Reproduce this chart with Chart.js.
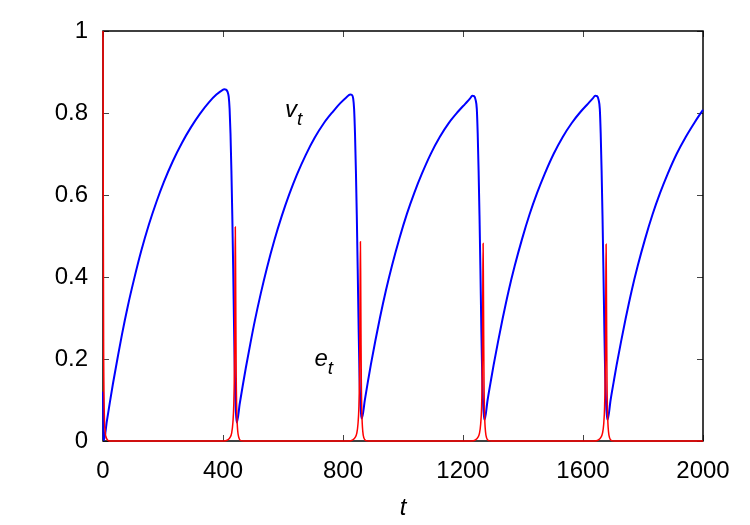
<!DOCTYPE html>
<html>
<head>
<meta charset="utf-8">
<script src="https://cdn.jsdelivr.net/npm/chart.js@4.4.0/dist/chart.umd.min.js"></script>
<style>
html, body { margin: 0; padding: 0; background: #fff; }
</style>
</head>
<body>
<canvas id="chart" width="750" height="525"></canvas>
<script>
// valeurs
var vT = [0, 2, 3, 13, 23, 33, 48, 63, 83, 103, 128, 153, 178, 203, 233, 263, 293, 323, 353, 378, 398, 404,
  410, 415, 419, 422, 425, 428, 431, 434, 437, 440, 443, 446,
  456, 466, 476, 491, 506, 526, 546, 571, 596, 621, 646, 676, 706, 736, 766, 791, 811, 824,
  830, 834, 837, 840, 843, 846, 849, 852, 855, 858, 861, 863,
  873, 883, 893, 908, 923, 943, 963, 988, 1013, 1038, 1063, 1093, 1123, 1153, 1183, 1208, 1223, 1231,
  1237, 1242, 1246, 1249, 1252, 1255, 1258, 1261, 1264, 1267, 1270, 1272,
  1282, 1292, 1302, 1317, 1332, 1352, 1372, 1397, 1422, 1447, 1472, 1502, 1532, 1562, 1592, 1617, 1632, 1641,
  1647, 1652, 1656, 1659, 1662, 1665, 1668, 1671, 1674, 1677, 1680, 1682,
  1692, 1702, 1712, 1727, 1742, 1762, 1782, 1807, 1832, 1857, 1882, 1912, 1942, 1972, 2000];
var vY = [0.12, 0.005, 0.002, 0.049, 0.095, 0.139, 0.2, 0.259, 0.33, 0.393, 0.465, 0.528, 0.583, 0.632, 0.683, 0.727, 0.765, 0.798, 0.826, 0.845, 0.856, 0.858,
  0.857, 0.852, 0.84, 0.81, 0.75, 0.66, 0.55, 0.42, 0.27, 0.14, 0.07, 0.045,
  0.092, 0.136, 0.178, 0.237, 0.293, 0.36, 0.421, 0.489, 0.549, 0.602, 0.649, 0.698, 0.74, 0.775, 0.803, 0.824, 0.838, 0.845,
  0.844, 0.835, 0.81, 0.75, 0.66, 0.55, 0.42, 0.28, 0.16, 0.09, 0.06, 0.055,
  0.101, 0.145, 0.187, 0.245, 0.3, 0.367, 0.427, 0.494, 0.554, 0.606, 0.652, 0.701, 0.742, 0.776, 0.803, 0.823, 0.835, 0.842,
  0.841, 0.832, 0.81, 0.75, 0.66, 0.55, 0.42, 0.28, 0.16, 0.09, 0.06, 0.052,
  0.1, 0.143, 0.185, 0.243, 0.298, 0.366, 0.426, 0.493, 0.553, 0.605, 0.651, 0.7, 0.741, 0.775, 0.803, 0.823, 0.835, 0.842,
  0.841, 0.832, 0.81, 0.75, 0.66, 0.55, 0.42, 0.28, 0.16, 0.09, 0.06, 0.052,
  0.1, 0.143, 0.185, 0.243, 0.298, 0.366, 0.426, 0.493, 0.553, 0.605, 0.651, 0.7, 0.741, 0.777, 0.808];

var eT = [0, 1, 2, 4, 7, 11, 16, 22,
  401, 416, 423, 429, 433, 436, 438, 439, 440, 441, 442, 443, 444, 446, 449, 453, 459, 470,
  818, 833, 840, 846, 850, 853, 855, 856, 857, 858, 859, 860, 861, 863, 866, 870, 876, 887,
  1227, 1242, 1249, 1255, 1259, 1262, 1264, 1265, 1266, 1267, 1268, 1269, 1270, 1272, 1275, 1279, 1285, 1296,
  1637, 1652, 1659, 1665, 1669, 1672, 1674, 1675, 1676, 1677, 1678, 1679, 1680, 1682, 1685, 1689, 1695, 1706,
  2000];
var eY = [1, 0.55, 0.25, 0.08, 0.025, 0.008, 0.002, 0,
  0, 0.003, 0.008, 0.02, 0.045, 0.09, 0.17, 0.26, 0.4, 0.522, 0.42, 0.28, 0.16, 0.07, 0.025, 0.008, 0.001, 0,
  0, 0.003, 0.008, 0.019, 0.042, 0.084, 0.158, 0.242, 0.372, 0.486, 0.39, 0.26, 0.149, 0.065, 0.023, 0.007, 0.001, 0,
  0, 0.003, 0.008, 0.019, 0.042, 0.083, 0.157, 0.24, 0.369, 0.482, 0.387, 0.258, 0.148, 0.064, 0.023, 0.007, 0.001, 0,
  0, 0.003, 0.008, 0.019, 0.041, 0.083, 0.156, 0.239, 0.367, 0.48, 0.385, 0.257, 0.147, 0.064, 0.023, 0.007, 0.001, 0,
  0];

var xTicks = [0, 400, 800, 1200, 1600, 2000];
var yTicks = [0, 0.2, 0.4, 0.6, 0.8, 1];

var police = '"Liberation Sans", Arial, sans-serif';

function points(xs, ys) {
  return xs.map(function(x, i) { return {x: x, y: ys[i]}; });
}

// cadre et graduations vers l'interieur (comme gnuplot)
var cadre = {
  id: 'cadre',
  beforeDatasetsDraw: function(chart) {
    var c = chart.ctx, a = chart.chartArea;
    var sx = chart.scales.x, sy = chart.scales.y;
    c.save();
    c.strokeStyle = '#444';
    c.lineWidth = 1;
    c.beginPath();
    xTicks.forEach(function(v) {
      var p = Math.round(sx.getPixelForValue(v)) + 0.5;
      c.moveTo(p, a.bottom); c.lineTo(p, a.bottom - 6);
      c.moveTo(p, a.top); c.lineTo(p, a.top + 6);
    });
    yTicks.forEach(function(v) {
      var p = Math.round(sy.getPixelForValue(v)) + 0.5;
      c.moveTo(a.left, p); c.lineTo(a.left + 6, p);
      c.moveTo(a.right, p); c.lineTo(a.right - 6, p);
    });
    c.stroke();
    c.strokeStyle = '#000';
    c.lineWidth = 1.5;
    c.strokeRect(a.left, a.top, a.right - a.left, a.bottom - a.top);
    c.restore();
  }
};

// etiquettes v_t et e_t
function ecrire(c, sx, sy, t, y, lettre) {
  var px = sx.getPixelForValue(t), py = sy.getPixelForValue(y);
  c.font = 'italic 24px ' + police;
  c.fillText(lettre, px, py);
  var w = c.measureText(lettre).width;
  c.font = 'italic 19px ' + police;
  c.fillText('t', px + w, py + 8);
}
var etiquettes = {
  id: 'etiquettes',
  afterDatasetsDraw: function(chart) {
    var c = chart.ctx, sx = chart.scales.x, sy = chart.scales.y;
    c.save();
    c.fillStyle = '#000';
    c.textBaseline = 'alphabetic';
    ecrire(c, sx, sy, 607, 0.79, 'v');
    ecrire(c, sx, sy, 705, 0.184, 'e');
    c.restore();
  }
};

function texte(v) { return String(v); }

var ctx = document.getElementById('chart').getContext('2d');
var chart = new Chart(ctx, {
  type: 'line',
  data: {
    datasets: [{
      label: 'e',
      data: points(eT, eY),
      borderColor: 'rgb(255, 0, 0)',
      borderWidth: 1.5,
      pointRadius: 0,
      cubicInterpolationMode: 'monotone',
      clip: false,
      order: 0
    }, {
      label: 'v',
      data: points(vT, vY),
      borderColor: 'rgb(0, 0, 255)',
      borderWidth: 2,
      pointRadius: 0,
      cubicInterpolationMode: 'monotone',
      clip: false,
      order: 1
    }]
  },
  options: {
    responsive: false,
    animation: false,
    devicePixelRatio: 1,
    layout: { padding: { top: 31, right: 47, left: 0, bottom: 0 } },
    plugins: { legend: { display: false }, tooltip: { enabled: false } },
    scales: {
      x: {
        type: 'linear',
        min: 0, max: 2000,
        afterBuildTicks: function(s) { s.ticks = xTicks.map(function(v) { return {value: v}; }); },
        afterFit: function(s) { s.height = 84; },
        grid: { display: false, drawTicks: false },
        border: { display: false },
        ticks: { color: '#000', padding: 16, maxRotation: 0, autoSkip: false, callback: texte,
          font: { family: police, size: 24 } },
        title: { display: true, text: 't', color: '#000', padding: { top: 0, bottom: 2 },
          font: { family: police, size: 24, style: 'italic' } }
      },
      y: {
        type: 'linear',
        min: 0, max: 1,
        afterBuildTicks: function(s) { s.ticks = yTicks.map(function(v) { return {value: v}; }); },
        afterFit: function(s) { s.width = 103; },
        grid: { display: false, drawTicks: false },
        border: { display: false },
        ticks: { color: '#000', padding: 15, callback: texte, font: { family: police, size: 24 } }
      }
    }
  },
  plugins: [cadre, etiquettes]
});
</script>
</body>
</html>
